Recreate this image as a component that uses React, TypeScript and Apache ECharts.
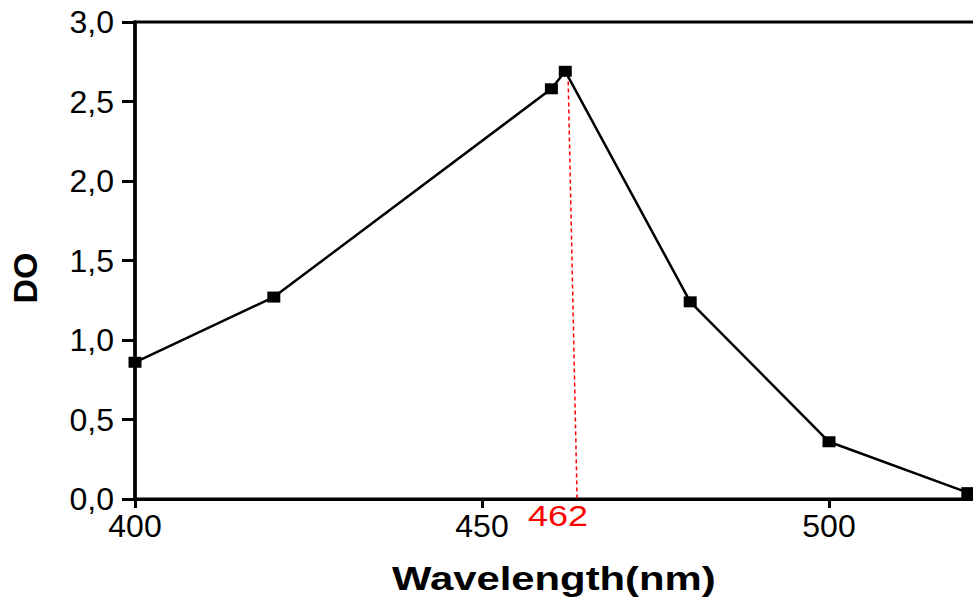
import React, { useEffect, useRef } from "react";
import * as echarts from "echarts";

const wavelengths = [400, 420, 460, 462, 480, 500, 520];
const doValues = [0.86, 1.27, 2.58, 2.69, 1.24, 0.36, 0.04];
const peakLine: [number, number][] = [
  [462.4, 2.67],
  [463.7, 0],
];
const peakLabel = "462";
const xTicks = [400, 450, 500];
const yTicks = [0, 0.5, 1, 1.5, 2, 2.5, 3];

export default function App() {
  const ref = useRef<HTMLDivElement>(null);
  useEffect(() => {
    if (!ref.current) return;
    const chart = echarts.init(ref.current, undefined, { renderer: "svg" });
    const font = "'Liberation Sans', Arial, sans-serif";
    chart.setOption({
      animation: false,
      backgroundColor: "#ffffff",
      grid: {
        left: 135,
        top: 22,
        width: 867.5,
        height: 477,
        show: true,
        borderColor: "#000",
        borderWidth: 3,
        outerBoundsMode: "none",
        containLabel: false,
      },
      xAxis: {
        type: "value",
        min: 400,
        max: 525,
        interval: 50,
        axisLine: { show: true, lineStyle: { color: "#000", width: 3 } },
        axisTick: { show: true, inside: false, length: 9, lineStyle: { color: "#000", width: 3 } },
        splitLine: { show: false },
        axisLabel: {
          color: "#000",
          fontSize: 32,
          fontFamily: font,
          margin: 11,
          formatter: (v: number) => (xTicks.includes(v) ? String(v) : ""),
        },
      },
      yAxis: {
        type: "value",
        min: 0,
        max: 3,
        interval: 0.5,
        axisLine: { show: true, lineStyle: { color: "#000", width: 3.5 } },
        axisTick: { show: true, inside: false, length: 13, lineStyle: { color: "#000", width: 3 } },
        splitLine: { show: false },
        axisLabel: {
          color: "#000",
          fontSize: 32,
          fontFamily: font,
          margin: 21,
          formatter: (v: number) =>
            yTicks.includes(v) ? v.toFixed(1).replace(".", ",") : "",
        },
      },
      series: [
        {
          type: "line",
          data: wavelengths.map((w, i) => [w, doValues[i]]),
          symbol: "rect",
          symbolSize: [13, 11],
          itemStyle: { color: "#000" },
          lineStyle: { color: "#000", width: 2.5 },
          z: 3,
        },
        {
          type: "line",
          data: peakLine,
          symbol: "none",
          lineStyle: { color: "#ff0000", width: 1.5, type: [4, 3] },
          z: 2,
        },
      ],
      graphic: [
        {
          type: "text",
          x: 528,
          y: 501,
          scaleX: 1.2,
          style: {
            text: peakLabel,
            fill: "#ff0000",
            fontSize: 30,
            fontFamily: font,
            align: "left",
            verticalAlign: "top",
          },
        },
        {
          type: "text",
          x: 392,
          y: 561,
          scaleX: 1.23,
          style: {
            text: "Wavelength(nm)",
            fill: "#000",
            fontSize: 34,
            fontWeight: "bold",
            fontFamily: font,
            align: "left",
            verticalAlign: "top",
          },
        },
        {
          type: "text",
          x: 25,
          y: 278,
          rotation: Math.PI / 2,
          style: {
            text: "DO",
            fill: "#000",
            fontSize: 34,
            fontWeight: "bold",
            fontFamily: font,
            align: "center",
            verticalAlign: "middle",
          },
        },
      ],
    });
    return () => chart.dispose();
  }, []);
  return (
    <div
      ref={ref}
      style={{ position: "fixed", left: 0, top: 0, width: 973, height: 597, background: "#fff" }}
    />
  );
}
